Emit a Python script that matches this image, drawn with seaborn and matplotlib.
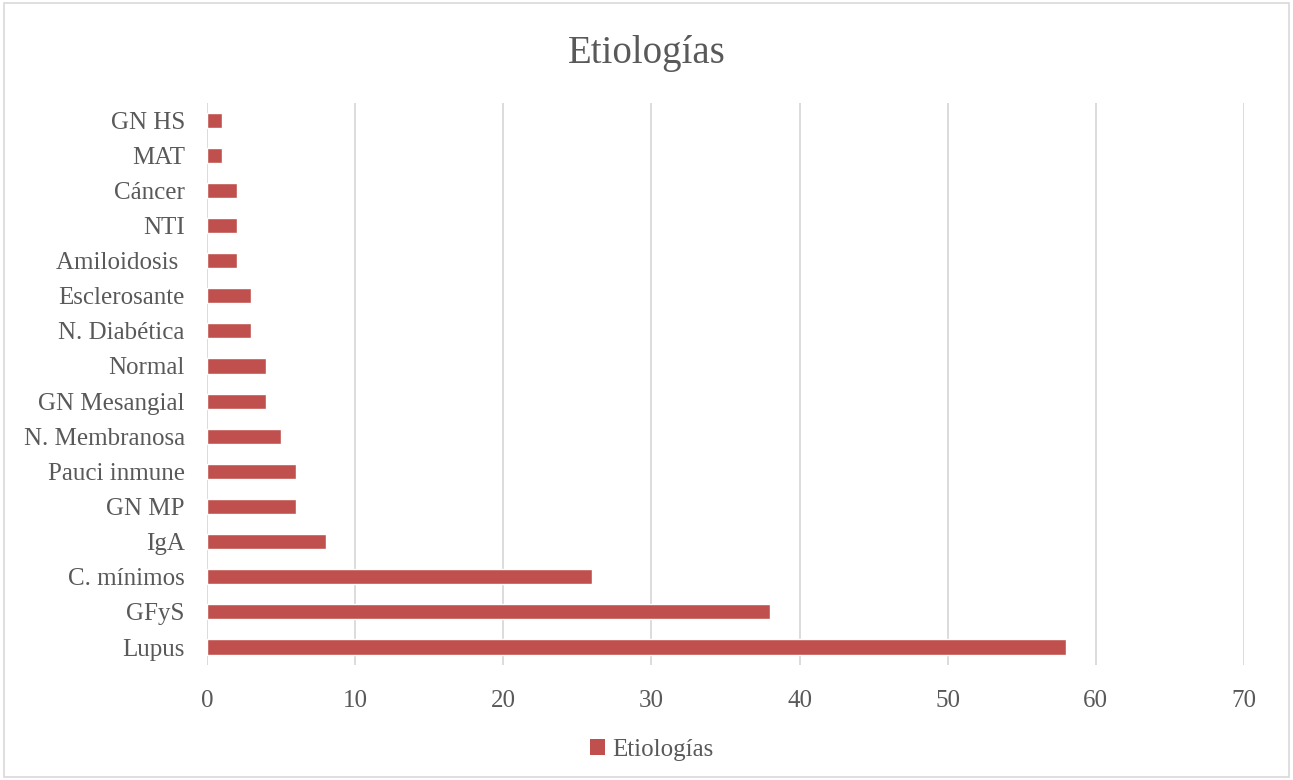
import matplotlib
matplotlib.use("Agg")
import matplotlib.pyplot as plt
import seaborn as sns
import pandas as pd
from matplotlib.patches import Rectangle, Patch

categories = ["GN HS", "MAT", "Cáncer", "NTI", "Amiloidosis ", "Esclerosante", "N. Diabética",
              "Normal", "GN Mesangial", "N. Membranosa", "Pauci inmune", "GN MP", "IgA",
              "C. mínimos", "GFyS", "Lupus"]
values = [1, 1, 2, 2, 2, 3, 3, 4, 4, 5, 6, 6, 8, 26, 38, 58]
series_name = "Etiologías"
x_ticks = [0, 10, 20, 30, 40, 50, 60, 70]

sns.set_theme(style="white")
plt.rcParams['font.family'] = ['Liberation Serif', 'DejaVu Serif']

df = pd.DataFrame({"cat": categories, "val": values})

fig = plt.figure(figsize=(12.93, 7.8), dpi=100)
ax = fig.add_axes([207/1293, 1 - 664.6/780, (1244-207)/1293, (664.6-102.5)/780])

bar_color = "#C0504D"
text_color = "#595959"
grid_color = "#D9D9D9"

sns.barplot(data=df, x="val", y="cat", order=categories, color=bar_color,
            width=0.43, saturation=1, ax=ax, orient="h")

ax.set_xlim(0, 70)
ax.set_ylim(len(categories) - 0.5, -0.5)
ax.set_xticks(x_ticks)
ax.set_xticklabels([str(t) for t in x_ticks])
ax.set_xlabel("")
ax.set_ylabel("")
for s in ax.spines.values():
    s.set_visible(False)
ax.set_axisbelow(True)
ax.xaxis.grid(True, color=grid_color, linewidth=1.3)
ax.yaxis.grid(False)
ax.tick_params(axis="both", length=0, labelsize=18, colors=text_color)
ax.tick_params(axis="x", pad=18)
ax.tick_params(axis="y", pad=16)
for lbl in ax.get_xticklabels() + ax.get_yticklabels():
    lbl.set_color(text_color)

fig.text(0.5, 1 - 53/780, series_name, ha="center", va="center", fontsize=28, color=text_color)

handles = [Patch(facecolor=bar_color, edgecolor="none", label=series_name)]
fig.legend(handles=handles, loc="center", bbox_to_anchor=(652/1293, 1 - 750/780), frameon=False,
           fontsize=18, labelcolor=text_color, handlelength=0.6, handleheight=0.6, handletextpad=0.3)

fig.patches.append(Rectangle((4/1293, 3/780), 1 - 8/1293, 1 - 6/780, transform=fig.transFigure,
                             fill=False, edgecolor="#D9D9D9", linewidth=1.2))

fig.savefig("out.png", dpi=100, facecolor="white")
